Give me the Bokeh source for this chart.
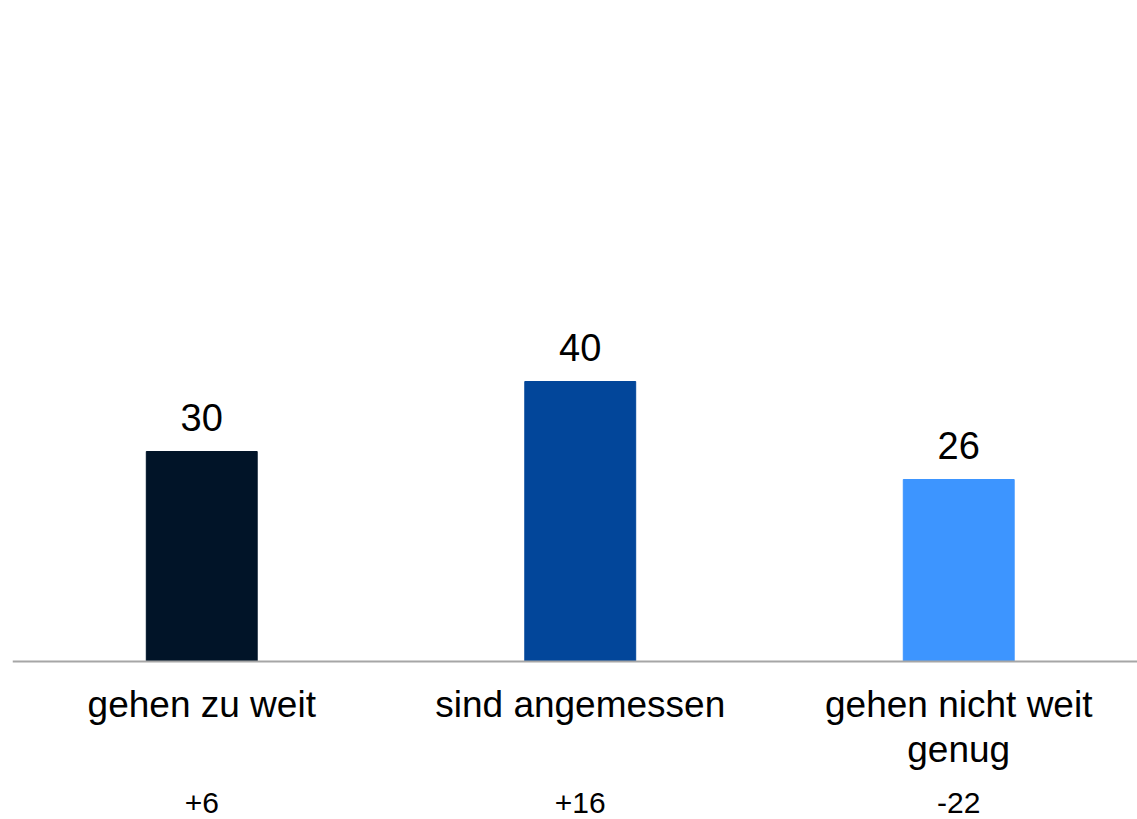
from bokeh.plotting import figure
from bokeh.models import ColumnDataSource, Span
from bokeh.core.properties import value
from bokeh.embed import file_html
from bokeh.resources import INLINE

categories = ["gehen zu weit", "sind angemessen", "gehen nicht weit\ngenug"]
values = [30, 40, 26]
changes = ["+6", "+16", "-22"]
colors = ["#011428", "#02469A", "#3D95FF"]

FONT = value("Liberation Sans")

xs = list(range(len(categories)))
line1 = [c.split("\n")[0] for c in categories]
line2 = [c.split("\n")[1] if "\n" in c else "" for c in categories]

src = ColumnDataSource(dict(
    x=xs, top=values, color=colors, vlabel=[str(v) for v in values],
    line1=line1, line2=line2, change=changes, zero=[0] * len(xs),
))

p = figure(width=1137, height=819, x_range=(-0.5, 2.4723), y_range=(-22.57, 94.43),
           output_backend="svg", toolbar_location=None,
           min_border_left=12, min_border_right=0, min_border_top=0, min_border_bottom=0)
p.xaxis.visible = False
p.yaxis.visible = False
p.xgrid.visible = False
p.ygrid.visible = False
p.outline_line_color = None

p.vbar(x="x", top="top", bottom=0, width=0.293, color="color", source=src)

p.add_layout(Span(location=0, dimension="width", line_color="#A6A6A6", line_width=2))

p.text(x="x", y="top", text="vlabel", source=src, text_font=FONT, text_font_size="38px",
       text_align="center", text_baseline="alphabetic", y_offset=-34, text_color="#000000")
p.text(x="x", y="zero", text="line1", source=src, text_font=FONT, text_font_size="37px",
       text_align="center", text_baseline="alphabetic", y_offset=43, text_color="#000000")
p.text(x="x", y="zero", text="line2", source=src, text_font=FONT, text_font_size="37px",
       text_align="center", text_baseline="alphabetic", y_offset=88, text_color="#000000")
p.text(x="x", y="zero", text="change", source=src, text_font=FONT, text_font_size="30px",
       text_align="center", text_baseline="alphabetic", y_offset=141, text_color="#000000")

open("out.html", "w").write(file_html(p, INLINE))
